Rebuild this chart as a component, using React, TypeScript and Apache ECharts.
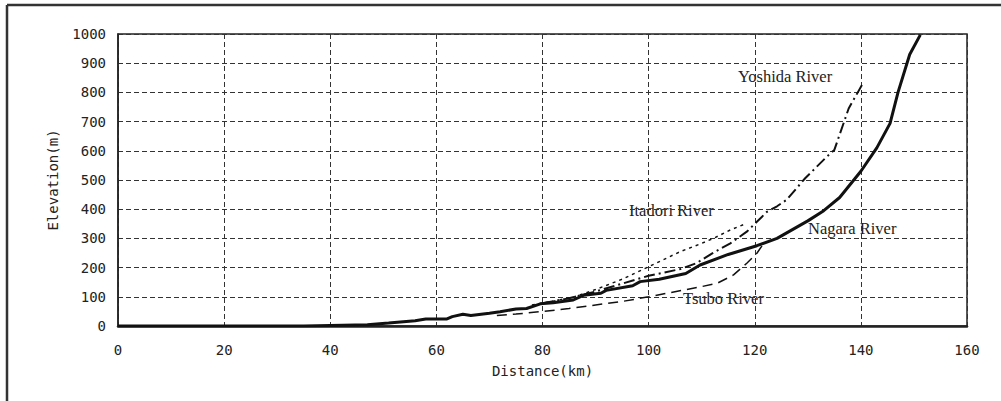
import React, { useEffect, useRef } from "react";
import * as echarts from "echarts";

// Distance (km), Elevation (m)
const nagara: [number, number][] = [
  [0, 0], [20, 0], [35, 0], [40, 2], [47, 4], [51, 10], [56, 18], [58, 24], [62, 24], [63, 32],
  [65, 40], [66.5, 36], [70, 44], [72, 49], [75, 58], [77, 60], [79.6, 76], [82, 80], [85.8, 89],
  [87.7, 105], [91, 112], [92, 122], [97, 138], [98.4, 152], [102, 160], [107, 180], [109.7, 209],
  [115, 245], [120.4, 275], [124.2, 300], [130, 360], [133, 395], [136, 440], [140, 530],
  [143, 610], [145.5, 694], [147, 800], [149.2, 930], [151.2, 997],
];
const yoshida: [number, number][] = [
  [80, 78], [85, 95], [90, 118], [95, 145], [100, 172], [106, 195], [109, 215], [112, 249],
  [115.4, 283], [118.5, 323], [120.4, 357], [122.3, 391], [124.2, 410], [126, 432], [129.5, 506],
  [133.6, 580], [135, 603], [137.7, 745], [140.2, 825],
];
const itadori: [number, number][] = [
  [78, 72], [82, 85], [86, 100], [90, 125], [95, 160], [100, 203], [106, 255], [110, 283],
  [112.2, 300], [115.4, 329], [118.5, 352],
];
const tsubo: [number, number][] = [
  [71.4, 36], [75, 41], [80.2, 50], [85, 60], [90, 72], [95, 84], [100, 100], [106.6, 123],
  [110, 135], [112.9, 146], [116, 175], [118.5, 215], [120.4, 249], [121.5, 278],
];
const riverNames = ["Nagara River", "Yoshida River", "Itadori River", "Tsubo River"];

export default function App() {
  const ref = useRef<HTMLDivElement>(null);
  useEffect(() => {
    document.body.style.margin = "0";
    const chart = echarts.init(ref.current!, null, { renderer: "svg" });
    const axisFont = { fontFamily: "DejaVu Sans Mono", fontSize: 14, color: "#222" };
    const gridLine = { show: true, lineStyle: { color: "#333", width: 1, type: [5, 3] as any } };
    const labelStyle = { fontFamily: "Liberation Serif", fontSize: 16.5, fill: "#222" };
    chart.setOption({
      animation: false,
      backgroundColor: "#fff",
      grid: { left: 118, right: 34, top: 34, bottom: 75, show: true, borderColor: "#222", borderWidth: 1.5 },
      xAxis: {
        type: "value", min: 0, max: 160, interval: 20,
        name: "Distance(km)", nameLocation: "middle", nameGap: 38,
        nameTextStyle: axisFont,
        axisLine: { show: true, lineStyle: { color: "#222", width: 2.5 } },
        axisTick: { show: false },
        axisLabel: { ...axisFont, margin: 17, formatter: (v: number) => String(v) },
        splitLine: gridLine,
      },
      yAxis: {
        type: "value", min: 0, max: 1000, interval: 100,
        name: "Elevation(m)", nameLocation: "middle", nameGap: 58,
        nameTextStyle: axisFont,
        axisLine: { show: true, lineStyle: { color: "#222", width: 1.5 } },
        axisTick: { show: false },
        axisLabel: { ...axisFont, margin: 12, formatter: (v: number) => String(v) },
        splitLine: gridLine,
      },
      series: [
        { name: riverNames[0], type: "line", data: nagara, symbol: "none", lineStyle: { color: "#111", width: 3 }, z: 5 },
        { name: riverNames[1], type: "line", data: yoshida, symbol: "none", lineStyle: { color: "#111", width: 2, type: [11, 4, 2, 4] } },
        { name: riverNames[2], type: "line", data: itadori, symbol: "none", lineStyle: { color: "#111", width: 1.5, type: [3, 4] } },
        { name: riverNames[3], type: "line", data: tsubo, symbol: "none", lineStyle: { color: "#111", width: 1.5, type: [10, 6] } },
      ],
      graphic: [
        { type: "line", shape: { x1: 7, y1: 5, x2: 1001, y2: 5 }, style: { stroke: "#333", lineWidth: 2.5 } },
        { type: "line", shape: { x1: 7, y1: 5, x2: 7, y2: 401 }, style: { stroke: "#333", lineWidth: 2.5 } },
        { type: "text", left: 738, top: 68, style: { text: riverNames[1], ...labelStyle } },
        { type: "text", left: 629, top: 202, style: { text: riverNames[2], ...labelStyle } },
        { type: "text", left: 808, top: 220, style: { text: riverNames[0], ...labelStyle } },
        { type: "text", left: 683, top: 290, style: { text: riverNames[3], ...labelStyle } },
      ],
    });
    return () => chart.dispose();
  }, []);
  return <div ref={ref} style={{ width: 1001, height: 401 }} />;
}
